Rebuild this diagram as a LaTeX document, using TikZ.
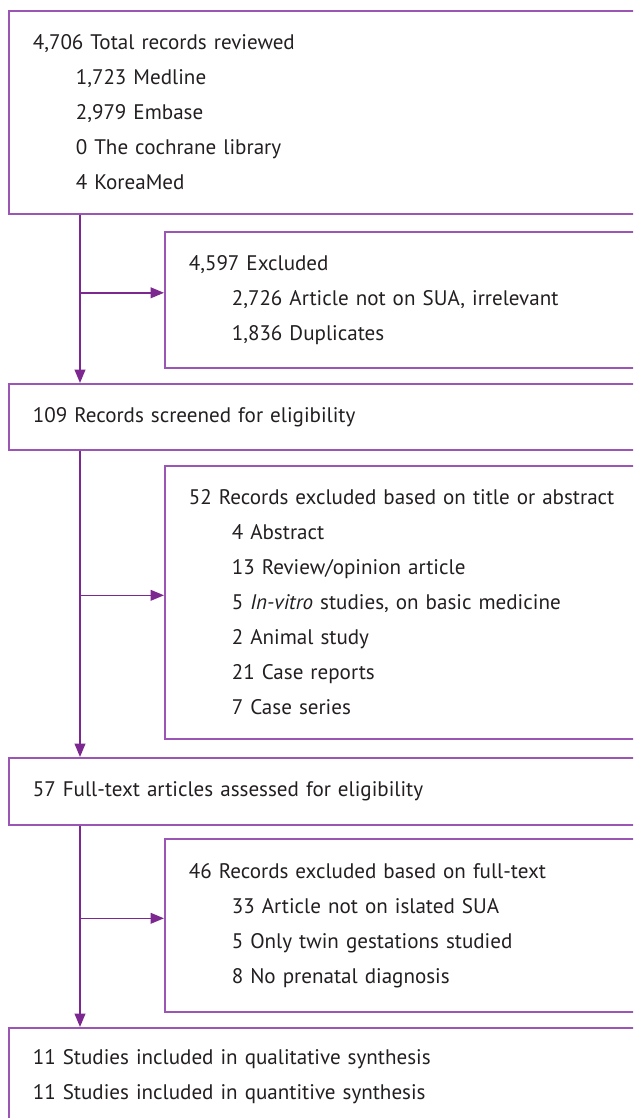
\documentclass[tikz,border=0pt]{standalone}
\usepackage{fontspec}
\setmainfont{PT Sans}
\usetikzlibrary{arrows.meta}
\definecolor{boxline}{RGB}{155,85,180}
\definecolor{flowline}{RGB}{125,40,145}
\definecolor{txtgray}{RGB}{35,31,32}
\tikzset{
  stage/.style={draw=boxline, line width=1.2pt, anchor=north west, align=left,
    inner xsep=18pt, inner ysep=0pt, text width=453pt, text=txtgray,
    font=\fontsize{15.8pt}{26.25pt}\selectfont},
  drop/.style={stage, text width=336pt},
  flow/.style={draw=flowline, line width=1.2pt, -{Triangle[length=10pt,width=8pt]}}
}
\newcommand{\ind}{\hspace*{32.25pt}}
\begin{document}
\begin{tikzpicture}[x=0.75pt, y=-0.75pt]
    \useasboundingbox (0,0) rectangle (633,1118);
    \clip (0,0) rectangle (633,1118);
    % Main stages
    \node[stage, minimum height=152.25pt] (reviewed) at (8,10) {4,706 Total records reviewed\\
        \ind 1,723 Medline\\ \ind 2,979 Embase\\ \ind 0 The cochrane library\\ \ind 4 KoreaMed};
    \node[stage, minimum height=49.5pt] (screened) at (8,383) {109 Records screened for eligibility};
    \node[stage, minimum height=50.25pt] (assessed) at (8,757) {57 Full-text articles assessed for eligibility};
    \node[stage, minimum height=73.5pt] (included) at (8,1027) {11 Studies included in qualitative synthesis\\
        11 Studies included in quantitive synthesis};
    % Exclusions
    \node[drop, minimum height=102pt] (excl1) at (164,231) {4,597 Excluded\\
        \ind 2,726 Article not on SUA, irrelevant\\ \ind 1,836 Duplicates};
    \node[drop, minimum height=204.75pt] (excl2) at (164,465) {52 Records excluded based on title or abstract\\
        \ind 4 Abstract\\ \ind 13 Review/opinion article\\ \ind 5 \textit{In-vitro} studies, on basic medicine\\
        \ind 2 Animal study\\ \ind 21 Case reports\\ \ind 7 Case series};
    \node[drop, minimum height=129.75pt] (excl3) at (164,838) {46 Records excluded based on full-text\\
        \ind 33 Article not on islated SUA\\ \ind 5 Only twin gestations studied\\ \ind 8 No prenatal diagnosis};
    % Spine and branches
    \coordinate (spine) at (80,0);
    \foreach \a/\b in {reviewed/screened, screened/assessed, assessed/included} {
        \draw[flow] (\a.south -| spine) -- (\b.north -| spine);
    }
    \foreach \e in {excl1, excl2, excl3} {
        \draw[flow] ([yshift=5.25pt]\e.west -| spine) -- ([yshift=5.25pt]\e.west);
    }
\end{tikzpicture}
\end{document}
